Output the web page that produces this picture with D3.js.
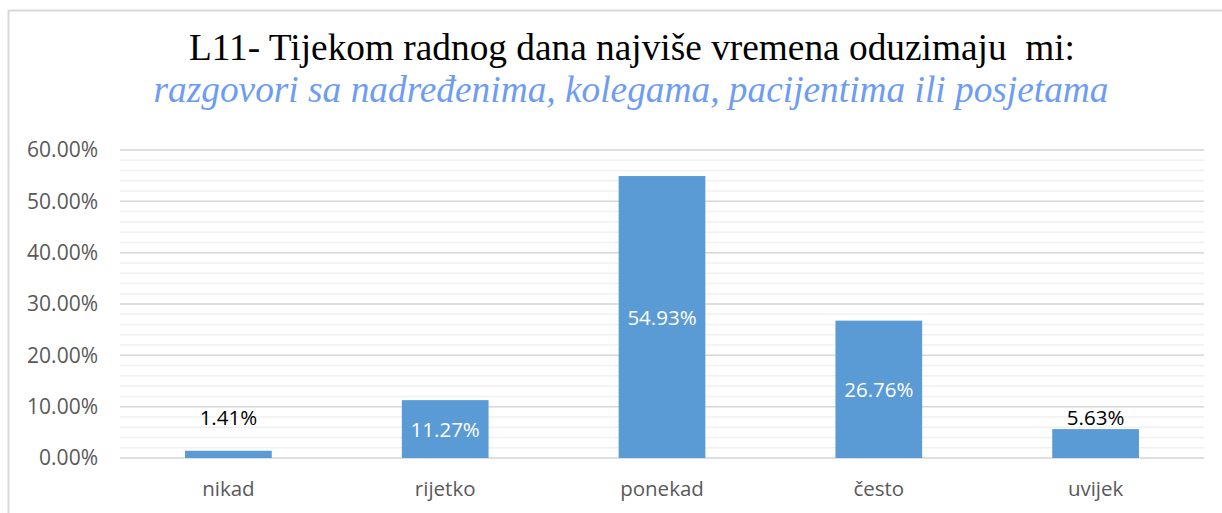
<!DOCTYPE html>
<html>
<head>
<meta charset="utf-8">
<script src="https://cdn.jsdelivr.net/npm/d3@7"></script>
<style>
  body { margin: 0; background: #fff; }
  svg { display: block; }
</style>
</head>
<body>
<div class="graph-section"></div>
<script>
var categories = ["nikad", "rijetko", "ponekad", "često", "uvijek"];
var values = [0.0141, 0.1127, 0.5493, 0.2676, 0.0563];
var majorTicks = [0, 0.1, 0.2, 0.3, 0.4, 0.5, 0.6];
var minorTicks = d3.range(0, 0.6001, 0.02);
var titleText = "L11- Tijekom radnog dana najviše vremena oduzimaju  mi:";
var subtitleText = "razgovori sa nadređenima, kolegama, pacijentima ili posjetama";

var screen = { width: 1222, height: 513 };
var margins = { top: 150, bottom: 55, left: 120, right: 18 };

var graphWidth = screen.width - margins.left - margins.right;
var graphHeight = 458 - margins.top;

var svg = d3.select(".graph-section")
  .append("svg")
  .attr("width", screen.width)
  .attr("height", screen.height);

// chart frame (only top & left visible in picture)
svg.append("rect")
  .attr("x", 8.5).attr("y", 10.5)
  .attr("width", 1240).attr("height", 540)
  .attr("fill", "none")
  .attr("stroke", "#d9d9d9")
  .attr("stroke-width", 2);

svg.append("text")
  .attr("x", 632).attr("y", 60)
  .attr("text-anchor", "middle")
  .style("white-space", "pre")
  .attr("font-family", "'Liberation Serif', 'Times New Roman', serif")
  .attr("font-size", 38)
  .attr("fill", "#000")
  .attr("textLength", 886)
  .attr("lengthAdjust", "spacingAndGlyphs")
  .text(titleText);

svg.append("text")
  .attr("x", 631).attr("y", 102)
  .attr("text-anchor", "middle")
  .attr("font-family", "'Liberation Serif', 'Times New Roman', serif")
  .attr("font-style", "italic")
  .attr("font-size", 37)
  .attr("fill", "#6d9cf4")
  .attr("textLength", 955)
  .attr("lengthAdjust", "spacingAndGlyphs")
  .text(subtitleText);

var xScale = d3.scaleBand()
  .domain(categories)
  .range([0, graphWidth])
  .paddingInner(0.6)
  .paddingOuter(0.3);

var yScale = d3.scaleLinear()
  .domain([0, 0.6])
  .range([graphHeight, 0]);

var plot = svg.append("g")
  .attr("transform", "translate(" + margins.left + "," + margins.top + ")");

plot.selectAll("line.minor")
  .data(minorTicks)
  .enter()
  .append("line")
  .attr("x1", 0).attr("x2", graphWidth)
  .attr("y1", function(d){ return yScale(d); })
  .attr("y2", function(d){ return yScale(d); })
  .attr("stroke", "#f0f0f0")
  .attr("stroke-width", 1.5);

plot.selectAll("line.major")
  .data(majorTicks)
  .enter()
  .append("line")
  .attr("x1", 0).attr("x2", graphWidth)
  .attr("y1", function(d){ return yScale(d); })
  .attr("y2", function(d){ return yScale(d); })
  .attr("stroke", "#d9d9d9")
  .attr("stroke-width", 1.5);

var yAxis = d3.axisLeft(yScale)
  .tickValues(majorTicks)
  .tickFormat(function(d){ return (d * 100).toFixed(2) + "%"; })
  .tickSize(0)
  .tickPadding(22);

var yg = plot.append("g").call(yAxis);
yg.select(".domain").remove();
yg.selectAll("text")
  .attr("font-family", "'Open Sans', sans-serif")
  .attr("font-size", 21)
  .attr("fill", "#595959");

var xg = plot.append("g")
  .attr("transform", "translate(0," + graphHeight + ")")
  .call(d3.axisBottom(xScale).tickSize(0).tickPadding(23));
xg.select(".domain").remove();
xg.selectAll("text")
  .attr("font-family", "'Open Sans', sans-serif")
  .attr("font-size", 20.5)
  .attr("fill", "#595959");

plot.selectAll("rect.bar")
  .data(values)
  .enter()
  .append("rect")
  .attr("x", function(d, i){ return xScale(categories[i]); })
  .attr("y", function(d){ return yScale(d); })
  .attr("width", xScale.bandwidth())
  .attr("height", function(d){ return graphHeight - yScale(d); })
  .attr("fill", "#5b9bd5");

// values too small for an inside label go above the bar
plot.selectAll("text.lbl")
  .data(values)
  .enter()
  .append("text")
  .attr("x", function(d, i){ return xScale(categories[i]) + xScale.bandwidth() / 2; })
  .attr("y", function(d){
    if (d < 0.1) return yScale(0.065);
    return (yScale(d) + graphHeight) / 2 + 8;
  })
  .attr("text-anchor", "middle")
  .attr("font-family", "'Open Sans', sans-serif")
  .attr("font-size", 20.5)
  .attr("fill", function(d){ return d < 0.1 ? "#000" : "#fff"; })
  .text(function(d){ return (d * 100).toFixed(2) + "%"; });
</script>
</body>
</html>
